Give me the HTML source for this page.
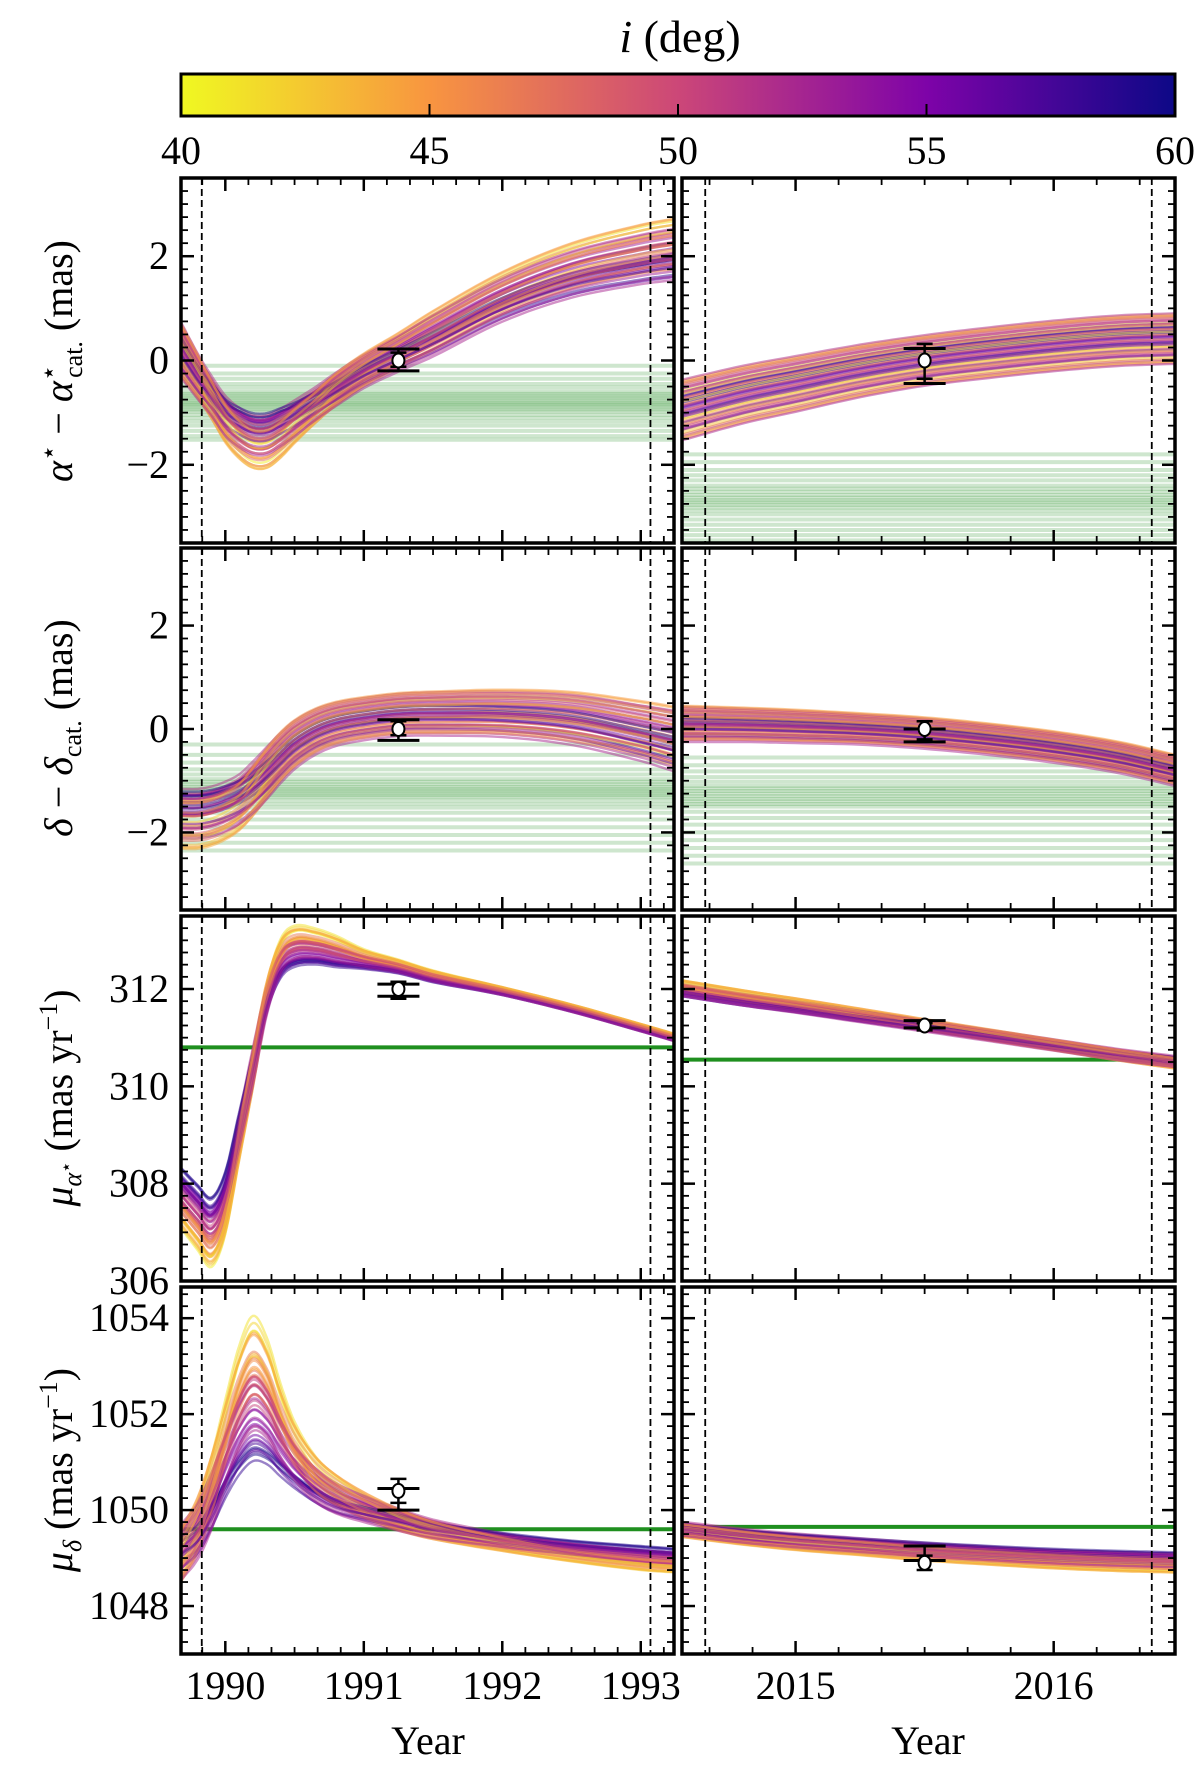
<!DOCTYPE html>
<html><head><meta charset="utf-8">
<style>
html,body{margin:0;padding:0;background:#fff;}
svg{display:block;font-family:"Liberation Serif",serif;}
</style></head>
<body>
<svg id="fig" width="1200" height="1769" viewBox="0 0 1200 1769" xmlns="http://www.w3.org/2000/svg">
<defs>
<linearGradient id="cbgrad" x1="0" x2="1" y1="0" y2="0">
<stop offset="0" stop-color="#f0f921"/><stop offset="0.25" stop-color="#f89540"/>
<stop offset="0.5" stop-color="#cc4778"/><stop offset="0.75" stop-color="#7e03a8"/>
<stop offset="1" stop-color="#0d0887"/></linearGradient>
</defs>
<text x="680" y="52" font-size="46" text-anchor="middle"><tspan font-style="italic">i</tspan> (deg)</text>
<rect x="181" y="74" width="994" height="42" fill="url(#cbgrad)" stroke="#000" stroke-width="3"/>
<g id="cbticks"></g>
<g id="panels"></g>
<text x="428" y="1754" font-size="40" text-anchor="middle">Year</text>
<text x="928" y="1754" font-size="40" text-anchor="middle">Year</text>
<text font-size="40" text-anchor="middle" transform="translate(72,361) rotate(-90)"><tspan font-style="italic">α</tspan><tspan font-size="26" dy="-15">⋆</tspan><tspan dy="15"> − </tspan><tspan font-style="italic">α</tspan><tspan font-size="26" dy="-15">⋆</tspan><tspan font-size="26" dx="-13" dy="25">cat.</tspan><tspan dy="-10">  (mas)</tspan></text>
<text font-size="40" text-anchor="middle" transform="translate(72,728) rotate(-90)"><tspan font-style="italic">δ</tspan> − <tspan font-style="italic">δ</tspan><tspan font-size="26" dy="9">cat.</tspan><tspan dy="-9">  (mas)</tspan></text>
<text font-size="40" text-anchor="middle" transform="translate(72,1098) rotate(-90)"><tspan font-style="italic">μ</tspan><tspan font-size="26" font-style="italic" dy="9">α</tspan><tspan font-size="18" dy="-9">⋆</tspan><tspan dy="0">  (mas yr</tspan><tspan font-size="26" dy="-15">−1</tspan><tspan dy="15">)</tspan></text>
<text font-size="40" text-anchor="middle" transform="translate(72,1470) rotate(-90)"><tspan font-style="italic">μ</tspan><tspan font-size="26" font-style="italic" dy="9">δ</tspan><tspan dy="-9">  (mas yr</tspan><tspan font-size="26" dy="-15">−1</tspan><tspan dy="15">)</tspan></text>
</svg>
<script>
// ---------- data ----------
const leftYears = [1989.68,1989.8,1989.9,1990.0,1990.1,1990.2,1990.3,1990.4,1990.5,1990.65,1990.8,1991.0,1991.25,1991.5,1992.0,1992.5,1993.0,1993.24];
const rightYears = [2014.56,2014.8,2015.0,2015.25,2015.5,2015.75,2016.0,2016.25,2016.47];

const raLeftCenter = [0.2,-0.3,-0.7,-1.1,-1.35,-1.5,-1.5,-1.35,-1.15,-0.85,-0.55,-0.2,0.15,0.5,1.2,1.7,2.0,2.1];
const raLeftCorr   = [0,0,-0.1,-0.2,-0.3,-0.35,-0.35,-0.3,-0.2,-0.1,0,0.05,0.1,0.15,0.2,0.25,0.3,0.3];
const raLeftSpread = [0.55,0.45,0.4,0.4,0.4,0.4,0.4,0.38,0.36,0.33,0.33,0.33,0.35,0.4,0.42,0.45,0.48,0.5];
const decLeftCenter = [-1.7,-1.7,-1.65,-1.55,-1.4,-1.15,-0.85,-0.55,-0.3,-0.05,0.1,0.2,0.28,0.3,0.3,0.2,-0.05,-0.2];
const decLeftCorr   = [-0.3,-0.3,-0.28,-0.25,-0.2,-0.1,0,0.05,0.05,0.05,0.05,0.05,0.05,0.05,0.08,0.1,0.15,0.15];
const decLeftSpread = [0.5,0.5,0.5,0.5,0.5,0.52,0.52,0.5,0.48,0.45,0.43,0.42,0.42,0.43,0.45,0.5,0.55,0.6];
const pmraLeftCenter = [307.7,307.3,307.0,307.6,309.0,310.4,311.8,312.6,312.85,312.85,312.75,312.6,312.45,312.25,311.95,311.6,311.2,311.0];
const pmraLeftCorr   = [-0.6,-0.65,-0.7,-0.6,-0.35,-0.1,0.15,0.35,0.4,0.35,0.3,0.18,0.12,0.1,0.06,0.05,0.05,0.05];
const pmraLeftSpread = [0.2,0.2,0.2,0.25,0.35,0.4,0.3,0.2,0.16,0.14,0.13,0.1,0.08,0.07,0.06,0.06,0.06,0.06];
const pmdecLeftCenter = [1049.1,1049.6,1050.3,1051.2,1052.0,1052.45,1052.2,1051.6,1051.1,1050.6,1050.3,1050.05,1049.8,1049.6,1049.35,1049.15,1049.0,1048.95];
const pmdecLeftCorr   = [-0.1,0.2,0.5,0.9,1.3,1.5,1.3,0.9,0.6,0.35,0.25,0.12,0,-0.05,-0.12,-0.18,-0.22,-0.22];
const pmdecLeftSpread = [0.6,0.6,0.6,0.5,0.45,0.45,0.4,0.38,0.35,0.35,0.32,0.28,0.24,0.2,0.15,0.12,0.12,0.12];

const raRightCenter = [-0.95,-0.65,-0.45,-0.2,0.0,0.15,0.28,0.38,0.42];
const raRightCorr   = [0,0,0,0,0,0,0,0,0];
const raRightSpread = [0.6,0.57,0.55,0.52,0.5,0.5,0.5,0.5,0.5];
const decRightCenter = [0.1,0.08,0.05,0.0,-0.08,-0.2,-0.35,-0.55,-0.8];
const decRightCorr   = [0.05,0.05,0.05,0.05,0.05,0.05,0.05,0.05,0.05];
const decRightSpread = [0.35,0.33,0.32,0.3,0.3,0.3,0.3,0.3,0.3];
const pmraRightCenter = [312.0,311.8,311.65,311.45,311.25,311.05,310.85,310.65,310.5];
const pmraRightCorr   = [0.12,0.11,0.09,0.07,0.04,0.02,0,-0.02,-0.05];
const pmraRightSpread = [0.12,0.12,0.12,0.12,0.12,0.12,0.12,0.12,0.12];
const pmdecRightCenter = [1049.6,1049.45,1049.35,1049.25,1049.15,1049.07,1049.0,1048.95,1048.92];
const pmdecRightCorr   = [-0.05,-0.07,-0.09,-0.1,-0.12,-0.13,-0.14,-0.15,-0.15];
const pmdecRightSpread = [0.15,0.15,0.15,0.15,0.15,0.15,0.15,0.15,0.15];

// per-sample inclinations (deg) and within-band offsets
const inclinations = [41.2,58.3,47.5,52.1,44.8,55.6,49.9,43.1,56.9,51.4,46.2,53.8,40.6,59.4,48.7,50.8,45.5,54.2,42.7,57.5,49.1,52.9,47.0,55.0,
  44.1,58.8,50.3,46.8,53.3,41.9,56.2,48.2,51.9,43.7,59.0,47.9,54.7,45.1,50.0,57.9,42.3,52.4,49.5,55.9,46.4,53.0,44.4,51.1];
const bandOffsets = [0.62,-0.41,0.18,-0.85,0.93,-0.12,0.35,-0.66,0.05,0.77,-0.93,0.48,-0.27,0.24,-0.55,0.86,-0.03,0.58,-0.74,0.12,-0.38,0.69,-0.19,0.41,
  -0.88,0.3,-0.5,0.82,-0.08,0.52,-0.63,0.15,0.97,-0.31,0.44,-0.79,0.09,-0.46,0.71,-0.15,0.27,-0.97,0.56,-0.22,0.38,-0.6,0.88,-0.01];

const greenRaLeft = [-0.1,-0.25,-0.35,-0.45,-0.52,-0.6,-0.64,-0.68,-0.72,-0.76,-0.8,-0.83,-0.86,-0.9,-0.94,-0.98,-1.04,-1.1,-1.17,-1.25,-1.35,-1.45,-1.52];
const greenRaRight = [-1.8,-1.95,-2.1,-2.2,-2.3,-2.4,-2.46,-2.52,-2.58,-2.63,-2.68,-2.72,-2.77,-2.82,-2.88,-2.95,-3.05,-3.15,-3.25,-3.35,-3.45];
const greenDecLeft = [-0.3,-0.5,-0.65,-0.78,-0.88,-0.97,-1.02,-1.07,-1.12,-1.16,-1.2,-1.24,-1.28,-1.32,-1.38,-1.45,-1.52,-1.62,-1.75,-1.9,-2.05,-2.2,-2.35];
const greenDecRight = [-0.55,-0.7,-0.82,-0.93,-1.02,-1.1,-1.15,-1.2,-1.25,-1.3,-1.35,-1.4,-1.45,-1.5,-1.6,-1.72,-1.85,-2.0,-2.15,-2.3,-2.45,-2.6];
const greenPmraLeft = [310.8];
const greenPmraRight = [310.55];
const greenPmdecLeft = [1049.6];
const greenPmdecRight = [1049.65];

// measurements: [epoch, value, outerLow, outerHigh, innerLow, innerHigh]
const measRaLeft = [1991.25, 0.0, -0.2, 0.22, -0.12, 0.15];
const measRaRight = [2015.5, 0.0, -0.44, 0.23, -0.35, 0.32];
const measDecLeft = [1991.25, 0.0, -0.22, 0.18, -0.12, 0.15];
const measDecRight = [2015.5, 0.0, -0.25, 0.0, -0.2, 0.15];
const measPmraLeft = [1991.25, 312.0, 311.85, 312.1, 311.8, 312.15];
const measPmraRight = [2015.5, 311.25, 311.2, 311.35, 311.15, 311.3];
const measPmdecLeft = [1991.25, 1050.4, 1050.0, 1050.45, 1050.15, 1050.65];
const measPmdecRight = [2015.5, 1048.9, 1048.95, 1049.25, 1048.75, 1049.05];

const leftTicks = [1990,1991,1992,1993];
const rightTicks = [2015,2016];
const raTicks = [-2,0,2];
const pmraTicks = [306,308,310,312];
const pmdecTicks = [1048,1050,1052,1054];
const cbTicks = [40,45,50,55,60];

// ---------- drawing ----------
const NS = "http://www.w3.org/2000/svg";
const svg = document.getElementById('fig');
const panelsG = document.getElementById('panels');
function el(tag, attrs, parent){const e=document.createElementNS(NS,tag);for(const k in attrs)e.setAttribute(k,attrs[k]);(parent||svg).appendChild(e);return e;}

const stops=[[13,8,135],[126,3,168],[204,71,120],[248,149,64],[240,249,33]];
function plasma(t){t=Math.max(0,Math.min(1,t));const s=t*4,i=Math.min(3,Math.floor(s)),f=s-i;const a=stops[i],b=stops[i+1];
 return 'rgb('+a.map((v,k)=>Math.round(v+(b[k]-v)*f)).join(',')+')';}
function incColor(inc){return plasma(1-(inc-40)/20);}

const cbX = v => 181 + (v-40)/20*994;
const cbG = document.getElementById('cbticks');
cbTicks.forEach(v=>{
  if(v>40&&v<60){const t=el('line',{x1:cbX(v),x2:cbX(v),y1:116,y2:104,stroke:'#000','stroke-width':2},cbG);
  
  }
  const l=el('text',{x:cbX(v),y:164,'font-size':40,'text-anchor':'middle'},cbG);
  
  
  l.textContent=v;
});

const colsX = [{x0:181,x1:674,min:1989.68,max:1993.24,years:leftYears,ticks:leftTicks,dash:[1989.83,1993.07]},
               {x0:682,x1:1175,min:2014.56,max:2016.47,years:rightYears,ticks:rightTicks,dash:[2014.65,2016.38]}];
const rowsY = [{y0:178,y1:543,min:-3.5,max:3.5,ticks:raTicks,minor:0.25,name:'ra'},
               {y0:548,y1:910,min:-3.5,max:3.5,ticks:raTicks,minor:0.25,name:'dec'},
               {y0:916,y1:1281,min:306,max:313.5,ticks:pmraTicks,minor:0.25,name:'pmra'},
               {y0:1287,y1:1654,min:1047,max:1054.65,ticks:pmdecTicks,minor:0.25,name:'pmdec'}];
const series = [
 [[raLeftCenter,raLeftCorr,raLeftSpread,greenRaLeft,measRaLeft],[raRightCenter,raRightCorr,raRightSpread,greenRaRight,measRaRight]],
 [[decLeftCenter,decLeftCorr,decLeftSpread,greenDecLeft,measDecLeft],[decRightCenter,decRightCorr,decRightSpread,greenDecRight,measDecRight]],
 [[pmraLeftCenter,pmraLeftCorr,pmraLeftSpread,greenPmraLeft,measPmraLeft],[pmraRightCenter,pmraRightCorr,pmraRightSpread,greenPmraRight,measPmraRight]],
 [[pmdecLeftCenter,pmdecLeftCorr,pmdecLeftSpread,greenPmdecLeft,measPmdecLeft],[pmdecRightCenter,pmdecRightCorr,pmdecRightSpread,greenPmdecRight,measPmdecRight]]
];

function catmull(xs, ys, n){
  const out=[];
  for(let i=0;i<xs.length-1;i++){
    const x0=xs[Math.max(0,i-1)],x1=xs[i],x2=xs[i+1],x3=xs[Math.min(xs.length-1,i+2)];
    const y0=ys[Math.max(0,i-1)],y1=ys[i],y2=ys[i+1],y3=ys[Math.min(ys.length-1,i+2)];
    const m1=(y2-y0)/((x2-x0)||1)*(x2-x1), m2=(y3-y1)/((x3-x1)||1)*(x2-x1);
    for(let k=0;k<n;k++){const t=k/n,t2=t*t,t3=t2*t;
      const y=(2*t3-3*t2+1)*y1+(t3-2*t2+t)*m1+(-2*t3+3*t2)*y2+(t3-t2)*m2;
      out.push([x1+(x2-x1)*t,y]);}
  }
  out.push([xs[xs.length-1],ys[ys.length-1]]);
  return out;
}

rowsY.forEach((R,ri)=>{
  colsX.forEach((C,ci)=>{
    const sx=v=>C.x0+(v-C.min)/(C.max-C.min)*(C.x1-C.x0);
    const sy=v=>R.y1-(v-R.min)/(R.max-R.min)*(R.y1-R.y0);
    const [center,corr,spread,greens,meas]=series[ri][ci];
    const g=el('g',{},panelsG);
    
    
    const cid='clip'+ri+ci;
    const cp=el('clipPath',{id:cid},g);
    el('rect',{x:C.x0,y:R.y0,width:C.x1-C.x0,height:R.y1-R.y0},cp);
    const inner=el('g',{'clip-path':'url(#'+cid+')'},g);
    const single = greens.length===1;
    greens.forEach(v=>{
      const l=el('line',{x1:C.x0,x2:C.x1,y1:sy(v),y2:sy(v),stroke:'#1f8f1f','stroke-width':4,'stroke-opacity':single?1:0.22},inner);
      
      
    });
    inclinations.forEach((inc,k)=>{
      const c=(50-inc)/10, j=bandOffsets[k];
      const ys=center.map((v,i)=>v+c*corr[i]+j*spread[i]);
      const pts=catmull(C.years,ys,8);
      const p=el('polyline',{points:pts.map(q=>sx(q[0]).toFixed(1)+','+sy(q[1]).toFixed(1)).join(' '),fill:'none',stroke:incColor(inc),'stroke-width':2.4,'stroke-opacity':0.5},inner);
      
      
    });
    C.dash.forEach(d=>{
      const l=el('line',{x1:sx(d),x2:sx(d),y1:R.y0,y2:R.y1,stroke:'#000','stroke-width':1.8,'stroke-dasharray':'7,4'},inner);
      
      
    });
    const mx=sx(meas[0]);
    const eg=el('g',{},inner);
    
    
    el('line',{x1:mx,x2:mx,y1:sy(Math.min(meas[2],meas[4])),y2:sy(Math.max(meas[3],meas[5])),stroke:'#000','stroke-width':2.5},eg);
    [meas[2],meas[3]].forEach(v=>el('line',{x1:mx-21,x2:mx+21,y1:sy(v),y2:sy(v),stroke:'#000','stroke-width':3},eg));
    [meas[4],meas[5]].forEach(v=>el('line',{x1:mx-8,x2:mx+8,y1:sy(v),y2:sy(v),stroke:'#000','stroke-width':2.5},eg));
    el('ellipse',{cx:mx,cy:sy(meas[1]),rx:6,ry:7,fill:'#fff',stroke:'#000','stroke-width':2},eg);
    const tg=el('g',{stroke:'#000'},g);
    
    
    const step=1/6;
    for(let v=Math.ceil(C.min/step)*step; v<=C.max; v+=step){
      const isMaj=Math.abs(v-Math.round(v))<1e-6, L=isMaj?13:7, x=sx(v);
      el('line',{x1:x,x2:x,y1:R.y0,y2:R.y0+L,'stroke-width':isMaj?2.5:1.8},tg);
      el('line',{x1:x,x2:x,y1:R.y1,y2:R.y1-L,'stroke-width':isMaj?2.5:1.8},tg);
    }
    for(let v=Math.ceil(R.min/R.minor)*R.minor; v<=R.max+1e-9; v+=R.minor){
      const isMaj=Math.abs(v/2-Math.round(v/2))<1e-6, L=isMaj?13:7, y=sy(v);
      el('line',{x1:C.x0,x2:C.x0+L,y1:y,y2:y,'stroke-width':isMaj?2.5:1.8},tg);
      el('line',{x1:C.x1,x2:C.x1-L,y1:y,y2:y,'stroke-width':isMaj?2.5:1.8},tg);
    }
    const fr=el('rect',{x:C.x0,y:R.y0,width:C.x1-C.x0,height:R.y1-R.y0,fill:'none',stroke:'#000','stroke-width':3.5},g);
    
    
    if(ci===0){
      R.ticks.forEach(v=>{
        const t=el('text',{x:C.x0-12,y:sy(v)+13,'font-size':40,'text-anchor':'end'},g);
        
        
        t.textContent=(v<0?'−':'')+Math.abs(v);
      });
    }
    if(ri===3){
      C.ticks.forEach(v=>{
        const t=el('text',{x:sx(v),y:1699,'font-size':40,'text-anchor':'middle'},g);
        
        
        t.textContent=v;
      });
    }
  });
});
</script>
</body></html>
